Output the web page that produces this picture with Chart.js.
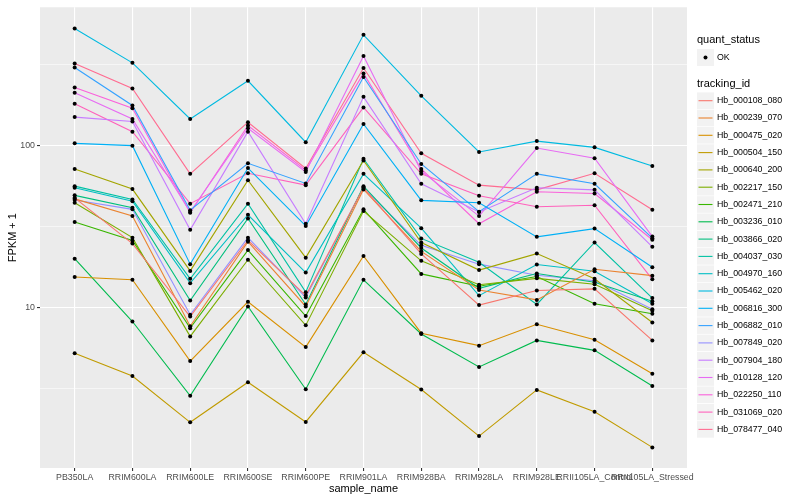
<!DOCTYPE html>
<html>
<head>
<meta charset="utf-8">
<script src="https://cdn.jsdelivr.net/npm/chart.js@4.4.0/dist/chart.umd.min.js"></script>
<style>
html, body { margin: 0; padding: 0; background: #fff; overflow: hidden; }
canvas { display: block; }
</style>
</head>
<body>
<canvas id="chart" width="800" height="500"></canvas>
<script>
// sample names on the x axis
var categories = ["PB350LA", "RRIM600LA", "RRIM600LE", "RRIM600SE", "RRIM600PE", "RRIM901LA",
    "RRIM928BA", "RRIM928LA", "RRIM928LE", "RRII105LA_Control", "RRII105LA_Stressed"];

// FPKM + 1 per gene
var hb_000108_080 = [47.7, 24.9, 8.84, 26.1, 11.9, 55, 21.5, 10.4, 12.8, 13.1, 6.3];
var hb_000239_070 = [47.0, 36.8, 7.7, 25.6, 10.2, 53.7, 22.3, 12.9, 11.2, 17.3, 15.8];
var hb_000475_020 = [15.5, 14.9, 4.7, 10.9, 5.73, 20.9, 6.98, 5.85, 7.93, 6.36, 3.92];
var hb_000504_150 = [5.25, 3.8, 1.97, 3.48, 1.98, 5.32, 3.14, 1.62, 3.12, 2.29, 1.38];
var hb_000640_200 = [71.8, 54, 16.9, 61.2, 20.4, 81, 25.3, 17.1, 21.6, 15.1, 8.13];
var hb_002217_150 = [44.5, 27.1, 6.67, 19.8, 7.8, 39.5, 19.5, 13.9, 15.2, 14.0, 9.6];
var hb_002471_210 = [33.8, 26.0, 7.5, 22.7, 8.9, 40.5, 16.2, 13.6, 15.6, 10.6, 9.2];
var hb_003236_010 = [20.1, 8.24, 2.87, 10.2, 3.15, 14.9, 6.9, 4.32, 6.3, 5.47, 3.3];
var hb_003866_020 = [49.4, 41.4, 11.1, 35.6, 10.5, 56.3, 23.4, 13.2, 16.3, 14.4, 11.0];
var hb_004037_030 = [56.3, 46.6, 15.1, 43.9, 12.5, 83, 26.8, 19.1, 10.5, 25.3, 11.5];
var hb_004970_160 = [55, 45.5, 14.2, 37.5, 16.5, 67, 31, 11.9, 18.5, 16.8, 10.6];
var hb_005462_020 = [527, 324, 146, 251, 105, 482, 203, 91.4, 106.7, 97.6, 75];
var hb_006816_300 = [103.3, 100, 18.6, 72.8, 32, 136, 46, 44.5, 27.4, 30.8, 17.8];
var hb_006882_010 = [303, 177, 40, 77.8, 58.5, 265, 77.1, 39.2, 67, 58.2, 26.9];
var hb_007849_020 = [46.2, 40.5, 9.06, 27.1, 11.6, 55, 24.3, 18.6, 15.9, 14.7, 9.8];
var hb_007904_180 = [150, 141, 30.3, 122, 33, 200, 58.2, 39, 55, 53.4, 23.8];
var hb_010128_120 = [212, 146, 39.0, 128, 68.8, 357, 69.6, 36.8, 96.7, 83.6, 27.5];
var hb_022250_110 = [228, 170, 38.6, 133, 70.6, 279, 71.8, 33, 52, 50.7, 26.3];
var hb_031069_020 = [181, 122, 43.9, 67.6, 57.1, 172, 67, 49.1, 42, 42.9, 15];
var hb_078477_040 = [321, 225, 67, 139.5, 72.3, 301, 89.7, 57.1, 53.4, 67.6, 40.3];

var trackingIds = ["Hb_000108_080", "Hb_000239_070", "Hb_000475_020", "Hb_000504_150", "Hb_000640_200",
    "Hb_002217_150", "Hb_002471_210", "Hb_003236_010", "Hb_003866_020", "Hb_004037_030",
    "Hb_004970_160", "Hb_005462_020", "Hb_006816_300", "Hb_006882_010", "Hb_007849_020",
    "Hb_007904_180", "Hb_010128_120", "Hb_022250_110", "Hb_031069_020", "Hb_078477_040"];
var seriesValues = [hb_000108_080, hb_000239_070, hb_000475_020, hb_000504_150, hb_000640_200,
    hb_002217_150, hb_002471_210, hb_003236_010, hb_003866_020, hb_004037_030,
    hb_004970_160, hb_005462_020, hb_006816_300, hb_006882_010, hb_007849_020,
    hb_007904_180, hb_010128_120, hb_022250_110, hb_031069_020, hb_078477_040];

// y gridlines: majors get labels, minors sit halfway in log space
var yMajorTicks = [10, 100];
var yMinorTicks = [3.1623, 31.623, 316.23];

// ggplot default hue palette for 20 levels
var colors = ["#F8766D", "#EA8331", "#D89000", "#C09B00", "#A3A500", "#7CAE00", "#39B600", "#00BB4E",
    "#00BF7D", "#00C1A3", "#00BFC4", "#00BAE0", "#00B0F6", "#35A2FF", "#9590FF", "#C77CFF",
    "#E76BF3", "#FA62DB", "#FF62BC", "#FF6C91"];

var FONT = "'Liberation Sans', Arial, Helvetica, sans-serif";

function toPoints(vals) {
    return vals.map(function (v, j) { return { x: j, y: v }; });
}

var datasets = [];
seriesValues.forEach(function (vals, i) {
    datasets.push({
        label: trackingIds[i],
        data: toPoints(vals),
        borderColor: colors[i],
        borderWidth: 1.1,
        pointRadius: 0,
        fill: false,
        tension: 0,
        order: 2
    });
});
// points go on top of every line, as geom_point after geom_line
seriesValues.forEach(function (vals, i) {
    datasets.push({
        label: trackingIds[i] + " OK",
        data: toPoints(vals),
        showLine: false,
        pointRadius: 2,
        pointBorderWidth: 0,
        pointBackgroundColor: "#000",
        order: 1
    });
});

var panelBg = {
    id: "panelBg",
    beforeDraw: function (chart) {
        var a = chart.chartArea, ctx = chart.ctx;
        ctx.save();
        ctx.fillStyle = "#EBEBEB";
        ctx.fillRect(a.left, a.top, a.right - a.left, a.bottom - a.top);
        ctx.restore();
    }
};

var extras = {
    id: "extras",
    afterDraw: function (chart) {
        var ctx = chart.ctx, a = chart.chartArea;
        ctx.save();
        ctx.fillStyle = "#000";
        ctx.textBaseline = "middle";

        // axis titles
        ctx.font = "11px " + FONT;
        ctx.textAlign = "center";
        ctx.fillText("sample_name", (a.left + a.right) / 2, 489);
        ctx.save();
        ctx.translate(13, (a.top + a.bottom) / 2);
        ctx.rotate(-Math.PI / 2);
        ctx.fillText("FPKM + 1", 0, 0);
        ctx.restore();

        // legend
        var lx = 697;
        ctx.textAlign = "left";
        ctx.font = "11px " + FONT;
        ctx.fillText("quant_status", lx, 40);
        ctx.fillStyle = "#F2F2F2";
        ctx.fillRect(lx, 49, 17, 17);
        ctx.fillStyle = "#000";
        ctx.beginPath();
        ctx.arc(lx + 8.5, 57.5, 2, 0, Math.PI * 2);
        ctx.fill();
        ctx.font = "8.8px " + FONT;
        ctx.fillText("OK", 717, 57.5);

        ctx.font = "11px " + FONT;
        ctx.fillText("tracking_id", lx, 84);
        ctx.font = "8.8px " + FONT;
        trackingIds.forEach(function (name, k) {
            var cy = 100.7 + 17.3 * k;
            ctx.fillStyle = "#F2F2F2";
            ctx.fillRect(lx, cy - 8.3, 17, 16.6);
            ctx.strokeStyle = colors[k];
            ctx.lineWidth = 1.1;
            ctx.beginPath();
            ctx.moveTo(lx + 1.5, cy);
            ctx.lineTo(lx + 15.5, cy);
            ctx.stroke();
            ctx.fillStyle = "#000";
            ctx.fillText(name, 717, cy);
        });
        ctx.restore();
    }
};

var ctx = document.getElementById("chart").getContext("2d");
var chart = new Chart(ctx, {
    type: "line",
    data: { datasets: datasets },
    plugins: [panelBg, extras],
    options: {
        responsive: false,
        animation: false,
        layout: { padding: { top: 5, right: 113, left: 0, bottom: 0 } },
        plugins: {
            legend: { display: false },
            tooltip: { enabled: false }
        },
        scales: {
            x: {
                type: "linear",
                min: -0.6,
                max: 10.6,
                afterBuildTicks: function (scale) {
                    scale.ticks = categories.map(function (c, i) { return { value: i }; });
                },
                afterFit: function (scale) { scale.height = 32; },
                ticks: {
                    autoSkip: false,
                    maxRotation: 0,
                    minRotation: 0,
                    padding: 1,
                    color: "#4D4D4D",
                    font: { family: FONT, size: 8.8 },
                    callback: function (v) { return categories[v]; }
                },
                grid: {
                    color: "#FFFFFF",
                    lineWidth: 1.1,
                    tickColor: "#333333",
                    tickLength: 3,
                    tickWidth: 1.1
                },
                border: { display: false }
            },
            y: {
                type: "logarithmic",
                min: 1.03,
                max: 713,
                afterBuildTicks: function (scale) {
                    scale.ticks = yMinorTicks.concat(yMajorTicks).sort(function (p, q) { return p - q; })
                        .map(function (v) { return { value: v }; });
                },
                afterFit: function (scale) { scale.width = 40; },
                ticks: {
                    padding: 2,
                    color: "#4D4D4D",
                    font: { family: FONT, size: 8.8 },
                    callback: function (v) { return yMajorTicks.indexOf(v) >= 0 ? String(v) : ""; }
                },
                grid: {
                    color: "#FFFFFF",
                    lineWidth: function (c) { return yMajorTicks.indexOf(c.tick.value) >= 0 ? 1.1 : 0.55; },
                    tickColor: function (c) { return yMajorTicks.indexOf(c.tick.value) >= 0 ? "#333333" : "rgba(0,0,0,0)"; },
                    tickLength: 3,
                    tickWidth: 1.1
                },
                border: { display: false }
            }
        }
    }
});
</script>
</body>
</html>
